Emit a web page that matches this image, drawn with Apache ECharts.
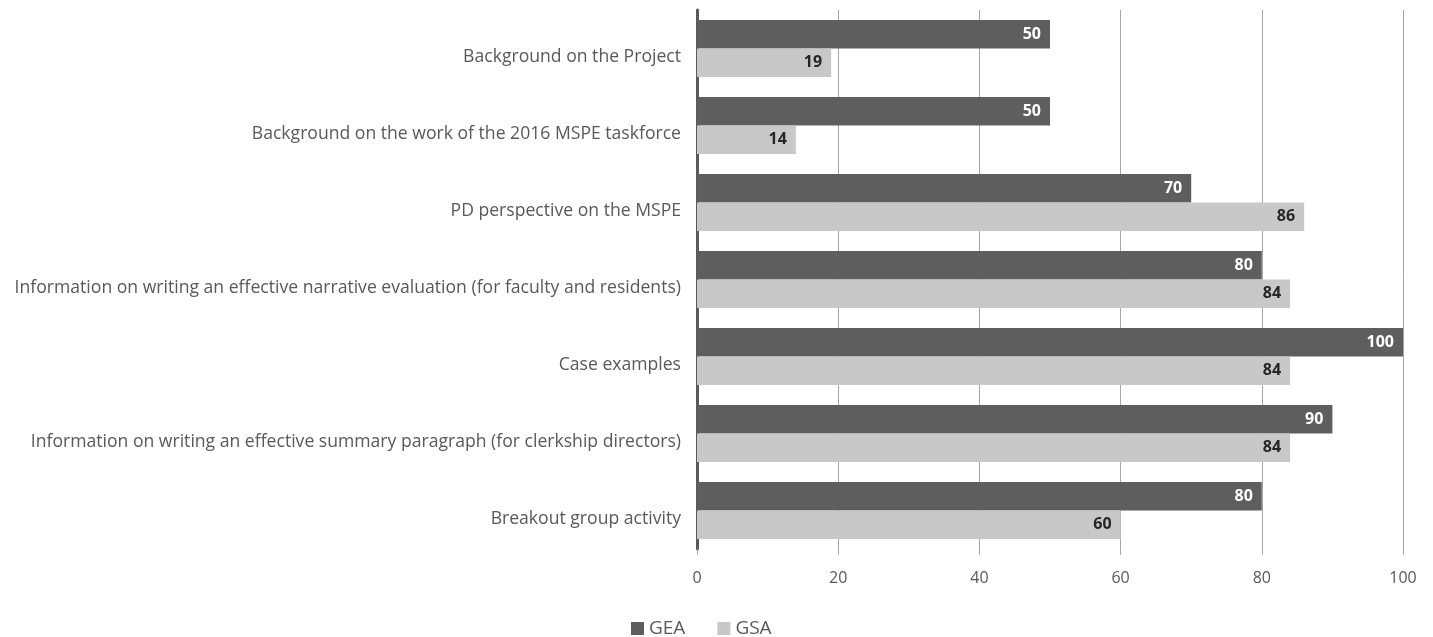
<!DOCTYPE html>
<html>
<head>
<meta charset="utf-8">
<script src="https://cdn.jsdelivr.net/npm/echarts@6/dist/echarts.min.js"></script>
<style>
  html, body { margin: 0; padding: 0; background: #fff; }
  #main { width: 1433px; height: 637px; }
</style>
</head>
<body>
<div id="main"></div>
<script>
// categories top to bottom
const categories = [
  'Background on the Project',
  'Background on the work of the 2016 MSPE taskforce',
  'PD perspective on the MSPE',
  'Information on writing an effective narrative evaluation (for faculty and residents)',
  'Case examples',
  'Information on writing an effective summary paragraph (for clerkship directors)',
  'Breakout group activity'
];
const geaValues = [50, 50, 70, 80, 100, 90, 80];
const gsaValues = [19, 14, 86, 84, 84, 84, 60];
const xTicks = [0, 20, 40, 60, 80, 100];

const chart = echarts.init(document.getElementById('main'));
const font = '"Open Sans", sans-serif';

chart.setOption({
  animation: false,
  textStyle: { fontFamily: font },
  grid: { left: 697, right: 30, top: 10, bottom: 88 },
  legend: {
    top: 614,
    left: 626,
    itemWidth: 13,
    itemHeight: 13,
    itemGap: 32,
    itemTextGap: 6,
    icon: 'rect',
    textStyle: { color: '#595959', fontSize: 19, fontFamily: font },
    data: ['GEA', 'GSA']
  },
  xAxis: {
    type: 'value',
    min: xTicks[0],
    max: xTicks[xTicks.length - 1],
    interval: 20,
    axisLine: { show: false },
    axisTick: { show: true, length: 6, lineStyle: { color: '#a6a6a6' } },
    splitLine: { show: true, lineStyle: { color: '#a6a6a6', width: 1 } },
    axisLabel: { color: '#595959', fontSize: 16, margin: 21, fontFamily: font }
  },
  yAxis: {
    type: 'category',
    inverse: true,
    data: categories,
    axisLine: { show: true, lineStyle: { color: '#595959', width: 3 } },
    axisTick: { show: false },
    axisLabel: {
      color: '#595959',
      fontSize: 17.6,
      margin: 16,
      // Excel puts the label a little below the band centre
      verticalAlign: 'top',
      lineHeight: 16,
      fontFamily: font
    }
  },
  series: [
    {
      name: 'GEA',
      type: 'bar',
      data: geaValues,
      barGap: '0%',
      barCategoryGap: '26%',
      itemStyle: { color: '#5e5e5f' },
      label: {
        show: true,
        position: 'insideRight',
        distance: 9,
        color: '#ffffff',
        fontWeight: 'bold',
        fontSize: 16,
        fontFamily: font
      }
    },
    {
      name: 'GSA',
      type: 'bar',
      data: gsaValues,
      barGap: '0%',
      barCategoryGap: '26%',
      itemStyle: { color: '#c8c8c9' },
      label: {
        show: true,
        position: 'insideRight',
        distance: 9,
        color: '#262626',
        fontWeight: 'bold',
        fontSize: 16,
        fontFamily: font
      }
    }
  ]
});
</script>
</body>
</html>
